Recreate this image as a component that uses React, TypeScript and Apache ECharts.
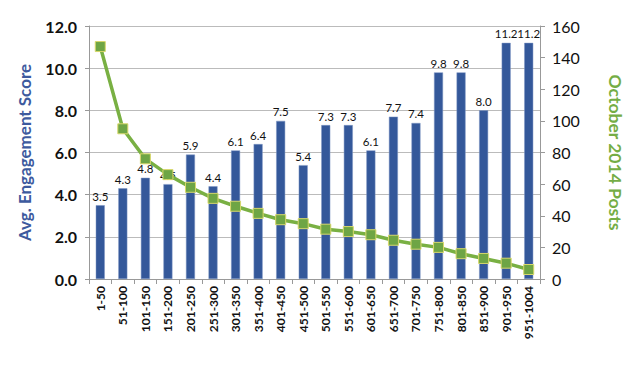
import React, { useEffect, useRef } from "react";
import * as echarts from "echarts";

const categories = ["1-50","51-100","101-150","151-200","201-250","251-300","301-350","351-400","401-450","451-500","501-550","551-600","601-650","651-700","701-750","751-800","801-850","851-900","901-950","951-1004"];
const engagement = [3.5,4.3,4.8,4.5,5.9,4.4,6.1,6.4,7.5,5.4,7.3,7.3,6.1,7.7,7.4,9.8,9.8,8.0,11.2,11.2];
const posts = [147,95,76,66,58,51,46,41.5,37.5,35,31.5,30,28,24.5,22,20,16,13,10,6];

const FONT = "Lato, 'DejaVu Sans', sans-serif";

export default function App() {
  const ref = useRef<HTMLDivElement>(null);
  useEffect(() => {
    document.body.style.margin = "0";
    const chart = echarts.init(ref.current!, null, { renderer: "svg" });
    chart.setOption({
      animation: false,
      textStyle: { fontFamily: FONT },
      grid: { left: 89, right: 100, top: 26, bottom: 101 },
      xAxis: {
        type: "category",
        data: categories,
        axisLine: { lineStyle: { color: "#999" } },
        axisTick: { show: true, alignWithLabel: false, length: 5, lineStyle: { color: "#999" } },
        axisLabel: { rotate: 90, fontSize: 12, fontWeight: "bold", color: "#111", margin: 7, interval: 0, fontFamily: FONT },
      },
      yAxis: [
        {
          type: "value",
          min: 0,
          max: 12,
          interval: 2,
          name: "Avg. Engagement Score",
          nameLocation: "middle",
          nameGap: 56,
          nameTextStyle: { color: "#3d5a9e", fontSize: 17, fontWeight: "bold", fontFamily: FONT },
          axisLine: { show: true, lineStyle: { color: "#999" } },
          axisTick: { show: true, length: 4, lineStyle: { color: "#999" } },
          axisLabel: { formatter: (v: number) => v.toFixed(1), fontSize: 16, fontWeight: "bold", color: "#111", margin: 12, fontFamily: FONT },
          splitLine: { lineStyle: { color: "#bbb" } },
        },
        {
          type: "value",
          min: 0,
          max: 160,
          interval: 20,
          name: "October 2014 Posts",
          nameLocation: "middle",
          nameGap: 66,
          nameRotate: -90,
          nameTextStyle: { color: "#74ad45", fontSize: 17.5, fontWeight: "bold", fontFamily: FONT },
          axisLine: { show: true, lineStyle: { color: "#999" } },
          axisTick: { show: true, length: 5, lineStyle: { color: "#999" } },
          axisLabel: { fontSize: 16, color: "#111", margin: 12, fontFamily: FONT },
          splitLine: { show: false },
        },
      ],
      series: [
        {
          type: "bar",
          data: engagement,
          yAxisIndex: 0,
          barWidth: 9,
          itemStyle: { color: "#34589a", borderColor: "#7f97c4", borderWidth: 0.5 },
          label: { show: true, position: "top", fontSize: 11.5, color: "#111", distance: 3, formatter: (p: any) => p.value.toFixed(1), fontFamily: FONT },
        },
        {
          type: "line",
          data: posts,
          yAxisIndex: 1,
          symbol: "rect",
          symbolSize: 10,
          lineStyle: { color: "#79b043", width: 3.5 },
          itemStyle: { color: "#6ea545", borderColor: "#d8d86a", borderWidth: 1 },
        },
      ],
    });
    return () => chart.dispose();
  }, []);
  return <div ref={ref} style={{ width: 640, height: 380 }} />;
}
